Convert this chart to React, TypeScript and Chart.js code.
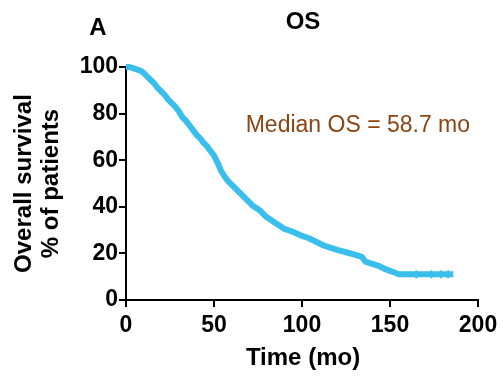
import React, { useEffect, useRef } from "react";
import { Chart, registerables } from "chart.js";

Chart.register(...registerables);

// Kaplan-Meier overall survival (time in months, % of patients)
const timeMonths = [
  0, 2, 4, 6, 8, 10, 12, 14, 16, 18, 20, 22, 24, 26, 28, 30, 32, 34, 36, 38, 40,
  42, 44, 46, 48, 50, 52, 54, 56, 58, 60, 62, 64, 66, 68, 70, 72, 74, 76, 78, 80,
  82, 84, 86, 88, 90, 94, 97, 100, 104, 108, 112, 116, 120, 125, 130, 134, 136,
  140, 144, 148, 152, 155, 186,
];
const survivalPct = [
  100, 100, 99.5, 99, 98.5, 97.5, 96, 94.5, 93, 91, 89.5, 88, 86, 84.5, 83, 81,
  78.5, 77, 75, 73, 71, 69.5, 67.5, 66, 64, 62, 59, 55.5, 53, 51, 49.5, 48,
  46.5, 45, 43.5, 42, 40.5, 39.5, 38.5, 37, 35.5, 34.5, 33.5, 32.5, 31.5, 30.5,
  29.5, 28.5, 27.5, 26.5, 25, 23.5, 22.5, 21.5, 20.5, 19.5, 18.5, 16.5, 15.5,
  14.5, 13, 12, 11, 11,
];
// censor marks on the tail
const censorTimes = [165, 173.5, 179, 183];
const censorPct = [11, 11, 11, 11];

const xTicks = [0, 50, 100, 150, 200];
const yTicks = [0, 20, 40, 60, 80, 100];

const titleText = "OS";
const panelLabel = "A";
const xTitle = "Time (mo)";
const yTitleLines = ["Overall survival", "% of patients"];
const annotationText = "Median OS = 58.7 mo";
const annotationAt = { x: 68, y: 75 };

const FONT = "'Liberation Sans', Arial, Helvetica, sans-serif";
const LINE_COLOR = "rgb(58,190,236)";
const BROWN = "rgb(139,69,19)";

const textPlugin = {
  id: "customTexts",
  afterDraw(chart: any) {
    const { ctx, chartArea, scales } = chart;
    const cx = (chartArea.left + chartArea.right) / 2;
    const cy = (chartArea.top + chartArea.bottom) / 2;
    ctx.save();
    ctx.fillStyle = "#000";
    ctx.textBaseline = "alphabetic";
    ctx.textAlign = "center";
    ctx.font = `bold 24px ${FONT}`;
    ctx.fillText(titleText, cx + 1, 29);
    ctx.fillText(panelLabel, 98, 35);
    // x title
    ctx.fillText(xTitle, cx + 1, 365);
    // y title (rotated)
    const baselines = [31, 58];
    yTitleLines.forEach((line, i) => {
      ctx.save();
      ctx.translate(baselines[i], cy);
      ctx.rotate(-Math.PI / 2);
      ctx.fillText(line, 0, 0);
      ctx.restore();
    });
    // annotation
    ctx.fillStyle = BROWN;
    ctx.font = `23px ${FONT}`;
    ctx.textAlign = "left";
    ctx.textBaseline = "middle";
    ctx.fillText(
      annotationText,
      scales.x.getPixelForValue(annotationAt.x),
      scales.y.getPixelForValue(annotationAt.y)
    );
    ctx.restore();
  },
};

export default function App() {
  const ref = useRef<HTMLCanvasElement | null>(null);
  useEffect(() => {
    document.body.style.margin = "0";
    const canvas = ref.current;
    if (!canvas) return;
    const chart = new Chart(canvas, {
      type: "line",
      data: {
        datasets: [
          {
            data: timeMonths.map((t, i) => ({ x: t, y: survivalPct[i] })),
            borderColor: LINE_COLOR,
            backgroundColor: LINE_COLOR,
            borderWidth: 6,
            borderJoinStyle: "round",
            borderCapStyle: "butt",
            pointRadius: 0,
            stepped: false,
            tension: 0,
            fill: false,
            clip: 6,
          },
          {
            type: "scatter",
            data: censorTimes.map((t, i) => ({ x: t, y: censorPct[i] })),
            pointStyle: "line",
            rotation: 90,
            radius: 4,
            borderColor: LINE_COLOR,
            borderWidth: 2,
            clip: 6,
          } as any,
        ],
      },
      options: {
        responsive: false,
        animation: false,
        layout: { padding: { top: 67, right: 25, left: 0, bottom: 0 } },
        plugins: {
          legend: { display: false },
          tooltip: { enabled: false },
          title: { display: false },
        },
        scales: {
          x: {
            type: "linear",
            min: 0,
            max: 200,
            afterBuildTicks: (scale: any) => {
              scale.ticks = xTicks.map((v) => ({ value: v }));
            },
            afterFit: (scale: any) => {
              scale.height = 79;
            },
            ticks: {
              color: "#000",
              font: { family: FONT, size: 23, weight: "bold" },
              padding: 5,
              maxRotation: 0,
            },
            grid: {
              drawOnChartArea: false,
              drawTicks: true,
              tickLength: 7,
              tickColor: "#000",
              lineWidth: 2,
            },
            border: { display: true, color: "#000", width: 2 },
          },
          y: {
            type: "linear",
            min: 0,
            max: 100,
            afterBuildTicks: (scale: any) => {
              scale.ticks = yTicks.map((v) => ({ value: v }));
            },
            afterFit: (scale: any) => {
              scale.width = 126;
            },
            ticks: {
              color: "#000",
              font: { family: FONT, size: 23, weight: "bold" },
              padding: 1,
            },
            grid: {
              drawOnChartArea: false,
              drawTicks: true,
              tickLength: 7,
              tickColor: "#000",
              lineWidth: 2,
            },
            border: { display: true, color: "#000", width: 2 },
          },
        },
      },
      plugins: [textPlugin],
    });
    return () => chart.destroy();
  }, []);
  return (
    <div style={{ width: 503, height: 379 }}>
      <canvas ref={ref} width={503} height={379} />
    </div>
  );
}
